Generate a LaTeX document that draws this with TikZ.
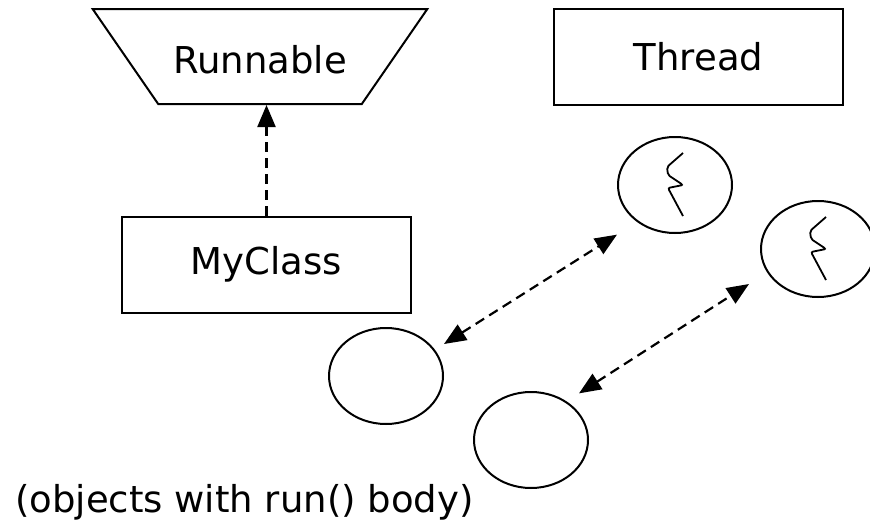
\documentclass[tikz,border=0pt]{standalone}
\usepackage{fontspec}
\setmainfont{DejaVu Sans}
\usetikzlibrary{calc,arrows.meta,shapes.geometric}

\begin{document}
\begin{tikzpicture}[
	x=1pt,y=-1pt,
	every node/.style={font=\fontsize{37}{44}\selectfont},
	box/.style={draw,line width=2pt,minimum width=289pt,minimum height=96pt,inner sep=0pt},
	iface/.style={draw,line width=2pt,trapezium,trapezium angle=55.4,shape border rotate=180,
		text height=35pt,text depth=2pt,inner ysep=29pt,inner xsep=15pt},
	obj/.style={draw,ellipse,line width=2pt,minimum width=114pt,minimum height=96pt,inner sep=0pt},
	link/.style={line width=2.2pt,dash pattern=on 10pt off 6pt,
		arrows={Triangle[length=22pt,width=18pt]-Triangle[length=22pt,width=18pt]}},
	realize/.style={line width=2.2pt,dash pattern=on 10pt off 6pt,
		arrows={-Triangle[length=22pt,width=18pt]}},
	squiggle/.style={line width=1.8pt,rounded corners=2pt}]
	\useasboundingbox (0,0) rectangle (870,525);
	\node[iface] (runnable) at (260,56.5) {Runnable};
	\node[box] (thread) at (698.5,56.5) {Thread};
	\node[box] (myclass) at (266.5,264.5) {MyClass};
	\node[obj] (th1) at (675,185) {};
	\node[obj] (th2) at (818,249) {};
	\node[obj] (objA) at (386,376) {};
	\node[obj] (objB) at (531,440) {};
	\node[anchor=base west,inner sep=0pt] (note) at (15,512) {(objects with run() body)};
	\foreach \t in {th1,th2}
		\draw[squiggle,shift={(\t)}] (8,-32) -- (-8,-18) -- (-7,-10) -- (8,0) -- (-7,3) -- (8,31);
	\draw[realize] (myclass.north) -- (myclass.north |- runnable.south);
	\draw[link] ($(objA.east)+(0,-32)$) -- ($(th1.south west)+(-17,15)$);
	\draw[link] ($(objB.north east)+(7,-12)$) -- ($(th2.west)+(-11,35)$);
\end{tikzpicture}
\end{document}
